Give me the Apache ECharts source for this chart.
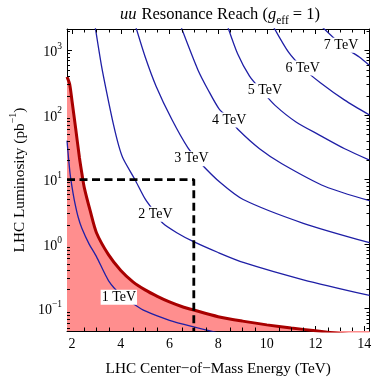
<!DOCTYPE html>
<html>
<head>
<meta charset="utf-8">
<script src="https://cdn.jsdelivr.net/npm/echarts@6/dist/echarts.min.js"></script>
<style>
  html, body { margin: 0; padding: 0; background: #fff; }
  #main { width: 374px; height: 381px; }
</style>
</head>
<body>
<div id="main"></div>
<script>
// axis ranges (TeV, pb^-1)
const xRange = [1.79, 14.22];
const yRange = [0.045, 2150];

// reach limit (red boundary), E in TeV vs luminosity in pb^-1
const reachLimit = [[1.79, 390], [1.9, 300], [2.0, 160], [2.15, 60], [2.3, 22], [2.4, 12.5], [2.5, 7.5],
  [2.75, 3.2], [3.0, 1.5], [3.5, 0.68], [4.0, 0.39], [4.5, 0.26], [5.0, 0.195], [5.5, 0.155],
  [6.0, 0.127], [6.5, 0.108], [7.0, 0.095], [8.0, 0.075], [9.0, 0.064], [10, 0.056], [11, 0.05],
  [12, 0.0455], [13, 0.041], [14.22, 0.037]];

// resonance mass contours
const masses = [1, 2, 3, 4, 5, 6, 7];
const contour1 = [[1.79, 40], [1.85, 22], [1.92, 12], [2.0, 7.5], [2.1, 4.6], [2.25, 2.6], [2.4, 1.76],
  [2.7, 1.0], [3.0, 0.64], [3.5, 0.27], [4.03, 0.16], [4.5, 0.12], [5.0, 0.092], [6.0, 0.066],
  [7.0, 0.052], [8.0, 0.042]];
const contour2 = [[2.95, 2300], [3.2, 600], [3.42, 225], [3.7, 71], [3.92, 33], [4.1, 21], [4.58, 10],
  [5.0, 5.0], [5.5, 2.75], [5.73, 2.1], [6.3, 1.5], [6.97, 1.1], [8.0, 0.74], [9.03, 0.52],
  [11.5, 0.28], [14.22, 0.16]];
const contour3 = [[4.62, 2300], [5.0, 800], [5.45, 280], [6.1, 85], [6.76, 31], [7.3, 17.6], [8.1, 8.9],
  [9.03, 4.9], [11.5, 2.1], [14.22, 1.05]];
const contour4 = [[6.48, 2300], [7.17, 500], [7.6, 240], [8.03, 126], [8.5, 84], [8.83, 59], [9.7, 30],
  [10.62, 17.6], [12.4, 7.8], [14.22, 4.7]];
const contour5 = [[8.4, 2300], [8.8, 890], [9.29, 400], [9.8, 235], [10.34, 141], [11.2, 78], [12.2, 48],
  [13.2, 30], [14.22, 20]];
const contour6 = [[10.28, 2300], [10.9, 930], [11.47, 537], [12.2, 316], [13.2, 170], [14.22, 100]];
const contour7 = [[12.2, 2450], [12.8, 1500], [13.05, 1200], [13.8, 790], [14.23, 580]];
const contours = [contour1, contour2, contour3, contour4, contour5, contour6, contour7];

// where each contour label sits
const labelAt = [[3.92, 0.15], [5.42, 2.9], [6.9, 21], [8.45, 84], [9.92, 238], [11.47, 537], [13.05, 1200]];

// 7 TeV, 10 pb^-1 benchmark
const benchmark = [7, 10];

// minor ticks
const xMinor = [2.5, 3, 3.5, 4.5, 5, 5.5, 6.5, 7, 7.5, 8.5, 9, 9.5, 10.5, 11, 11.5, 12.5, 13, 13.5];
const yDecades = [-2, -1, 0, 1, 2, 3];
const yMultipliers = [2, 3, 4, 5, 6, 7, 8, 9];
const yMinor = [];
yDecades.forEach(d => yMultipliers.forEach(m => {
  const v = m * Math.pow(10, d);
  if (v > yRange[0] && v < yRange[1]) yMinor.push(+v.toPrecision(3));
}));

const FONT = "'Liberation Serif', 'DejaVu Serif', 'Times New Roman', serif";
const BLUE = '#1f1fa6';

const supRich = {
  b: { fontFamily: FONT, fontSize: 14, color: '#000', lineHeight: 18, verticalAlign: 'bottom' },
  s: { fontFamily: FONT, fontSize: 9.5, color: '#000', verticalAlign: 'top', lineHeight: 18 }
};

const logLabel = v => {
  const e = Math.round(Math.log10(v));
  return '{b|10}{s|' + (e < 0 ? '\u2212' + (-e) : e) + '}';
};

const tickSeries = (values, dim) => ({
  type: 'custom',
  silent: true,
  clip: false,
  z: 20,
  data: values.map(v => dim === 'x' ? [v, yRange[0]] : [xRange[0], v]),
  renderItem: (params, api) => {
    const cs = params.coordSys;
    const p = api.coord([api.value(0), api.value(1)]);
    const st = { stroke: '#000', lineWidth: 1 };
    if (dim === 'x') {
      const x = Math.round(p[0]) + 0.5;
      return { type: 'group', children: [
        { type: 'line', shape: { x1: x, y1: cs.y + cs.height, x2: x, y2: cs.y + cs.height - 3.5 }, style: st },
        { type: 'line', shape: { x1: x, y1: cs.y, x2: x, y2: cs.y + 3.5 }, style: st }
      ] };
    }
    const y = Math.round(p[1]) + 0.5;
    return { type: 'group', children: [
      { type: 'line', shape: { x1: cs.x, y1: y, x2: cs.x + 3, y2: y }, style: st },
      { type: 'line', shape: { x1: cs.x + cs.width, y1: y, x2: cs.x + cs.width - 3, y2: y }, style: st }
    ] };
  }
});

const axisCommon = {
  axisLine: { lineStyle: { color: '#000', width: 1 } },
  axisTick: { inside: true, length: 5, lineStyle: { color: '#000', width: 1 } },
  splitLine: { show: false }
};

const series = [{
  type: 'line',
  data: reachLimit,
  showSymbol: false,
  smooth: 0.25,
  lineStyle: { color: '#a80000', width: 3 },
  areaStyle: { color: '#ff8e8e', opacity: 1, origin: 'start' },
  z: 2
}];

contours.forEach((c, i) => {
  series.push({
    type: 'line',
    data: c,
    showSymbol: false,
    smooth: 0.25,
    lineStyle: { color: BLUE, width: 1.3 },
    z: 3,
    markPoint: {
      symbol: 'circle',
      symbolSize: 0,
      silent: true,
      data: [{ coord: labelAt[i] }],
      label: {
        show: true,
        position: 'inside',
        formatter: masses[i] + ' TeV',
        fontFamily: FONT,
        fontSize: 14,
        color: '#000',
        backgroundColor: '#fff',
        padding: [1, 1, 0, 1]
      }
    }
  });
});

series.push({
  type: 'line',
  data: [[xRange[0], benchmark[1]], benchmark, [benchmark[0], yRange[0]]],
  showSymbol: false,
  lineStyle: { color: '#000', width: 2.8, type: [8, 4.5] },
  z: 5
});

series.push(tickSeries(xMinor, 'x'));
series.push(tickSeries(yMinor, 'y'));

const chart = echarts.init(document.getElementById('main'), null, { renderer: 'canvas' });
chart.setOption({
  animation: false,
  backgroundColor: '#fff',
  title: {
    text: '{i|uu} {r|Resonance Reach (}{i|g}{sub|eff}{r| = 1)}',
    left: 215,
    top: 1,
    textAlign: 'center',
    textStyle: {
      fontWeight: 'normal',
      rich: {
        i: { fontFamily: FONT, fontStyle: 'italic', fontWeight: 'normal', fontSize: 16.5, color: '#000', lineHeight: 21, verticalAlign: 'top' },
        r: { fontFamily: FONT, fontWeight: 'normal', fontSize: 16.5, color: '#000', lineHeight: 21, verticalAlign: 'top' },
        sub: { fontFamily: FONT, fontWeight: 'normal', fontSize: 11.5, color: '#000', lineHeight: 21, verticalAlign: 'bottom' }
      }
    }
  },
  grid: { left: 58, right: 3, top: 29, bottom: 42, containLabel: false },
  xAxis: [Object.assign({}, axisCommon, {
    type: 'value',
    min: xRange[0],
    max: xRange[1],
    name: 'LHC Center\u2212of\u2212Mass Energy (TeV)',
    nameLocation: 'middle',
    nameGap: 30,
    nameTextStyle: { fontFamily: FONT, fontSize: 15.3, color: '#000' },
    axisLabel: { showMinLabel: false, showMaxLabel: false, fontFamily: FONT, fontSize: 14, color: '#000', margin: 6 }
  }), Object.assign({}, axisCommon, {
    type: 'value',
    position: 'top',
    min: xRange[0],
    max: xRange[1],
    axisLabel: { show: false }
  })],
  yAxis: [Object.assign({}, axisCommon, {
    type: 'log',
    logBase: 10,
    min: yRange[0],
    max: yRange[1],
    name: '{n|LHC Luminosity (pb}{s|\u22121}{n|)}',
    nameLocation: 'middle',
    nameRotate: 90,
    nameGap: 39,
    nameTextStyle: {
      rich: {
        n: { fontFamily: FONT, fontSize: 15.3, color: '#000', lineHeight: 19, verticalAlign: 'bottom' },
        s: { fontFamily: FONT, fontSize: 10, color: '#000', lineHeight: 19, verticalAlign: 'top' }
      }
    },
    axisLabel: { showMinLabel: false, showMaxLabel: false, formatter: logLabel, rich: supRich, margin: 5 }
  }), Object.assign({}, axisCommon, {
    type: 'log',
    logBase: 10,
    position: 'right',
    min: yRange[0],
    max: yRange[1],
    axisLabel: { show: false }
  })],
  series: series
});
</script>
</body>
</html>
